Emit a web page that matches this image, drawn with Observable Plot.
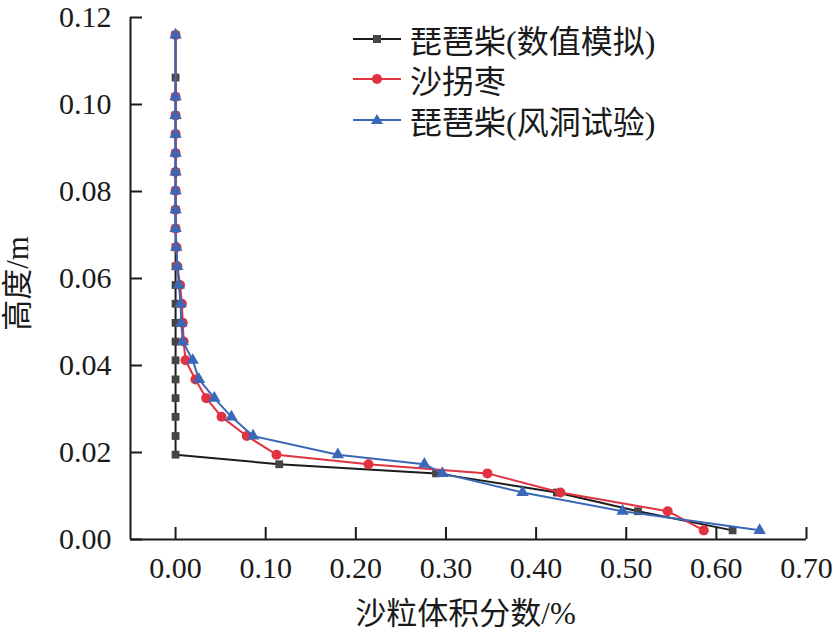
<!DOCTYPE html>
<html>
<head>
<meta charset="utf-8">
<script src="https://cdn.jsdelivr.net/npm/d3@7"></script>
<script src="https://cdn.jsdelivr.net/npm/@observablehq/plot@0.6"></script>
<style>
  html, body { margin: 0; padding: 0; background: #fff; }
  #wrap { position: relative; width: 833px; height: 635px; }
  #legend { position: absolute; left: 353px; top: 0; font-family: "Liberation Serif", "Noto Sans CJK SC", serif; font-size: 32px; color: #1a1a1a; }
  .row { position: absolute; left: 0; display: flex; align-items: center; white-space: nowrap; height: 40px; }
  .row svg { margin-right: 9px; }
</style>
</head>
<body>
<div id="wrap"></div>
<script>
// Heights (m) at which sand volume fraction was sampled
const heights = [0.0021, 0.0065, 0.0108, 0.0152, 0.0173, 0.0195, 0.0238, 0.0282, 0.0325, 0.0368,
  0.0412, 0.0455, 0.0498, 0.0542, 0.0585, 0.0628, 0.0672, 0.0715, 0.0758, 0.0802,
  0.0845, 0.0888, 0.0932, 0.0975, 0.1018, 0.1062, 0.1160];

// 琵琶柴(数值模拟)
const simValues = [0.618, 0.513, 0.423, 0.289, 0.115, 0.000, 0.000, 0.000, 0.000, 0.000,
  0.000, 0.000, 0.000, 0.000, 0.000, 0.000, 0.000, 0.000, 0.000, 0.000,
  0.000, 0.000, 0.000, 0.000, 0.000, 0.000, 0.000];

// 沙拐枣
const shaValues = [0.586, 0.546, 0.427, 0.346, 0.214, 0.112, 0.079, 0.051, 0.034, 0.022,
  0.011, 0.009, 0.008, 0.007, 0.005, 0.002, 0.001, 0.000, 0.000, 0.000,
  0.000, 0.000, 0.000, 0.000, 0.000, null, 0.000];

// 琵琶柴(风洞试验)
const windValues = [0.648, 0.496, 0.385, 0.296, 0.276, 0.180, 0.086, 0.062, 0.043, 0.026,
  0.019, 0.008, 0.0063, 0.0056, 0.0037, 0.0019, 0.0008, 0.000, 0.000, 0.000,
  0.000, 0.000, 0.000, 0.000, 0.000, null, 0.000];

const seriesNames = ["琵琶柴(数值模拟)", "沙拐枣", "琵琶柴(风洞试验)"];
const xTicks = [0, 0.1, 0.2, 0.3, 0.4, 0.5, 0.6, 0.7];
const yTicks = [0, 0.02, 0.04, 0.06, 0.08, 0.10, 0.12];
const xLabel = "沙粒体积分数/%";
const yLabel = "高度/m";

const colors = { sim: "#1c1c1c", simMarker: "#454545", sha: "#e0323f", wind: "#3a68b6" };

function rows(values) {
  return heights.map((h, i) => ({ h, v: values[i] })).filter(d => d.v != null);
}
const sim = rows(simValues), sha = rows(shaValues), wind = rows(windValues);

const font = "'Liberation Serif', 'Noto Sans CJK SC', serif";

const chart = Plot.plot({
  width: 833,
  height: 635,
  marginLeft: 130,
  marginRight: 27,
  marginTop: 17,
  marginBottom: 96,
  style: { fontFamily: font, background: "#fff", color: "#1a1a1a" },
  x: { domain: [-0.05, 0.70] },
  y: { domain: [0, 0.12] },
  marks: [
    // axis tick labels
    Plot.axisX(xTicks, { tickSize: 0, tickPadding: 17, tickFormat: d3.format(".2f"), fontSize: 30, label: null }),
    Plot.axisY(yTicks, { tickSize: 0, tickPadding: 19, tickFormat: d3.format(".2f"), fontSize: 30, label: null }),
    // axis titles
    Plot.text([xLabel], { text: d => d, frameAnchor: "bottom", dx: -3, dy: 75, textAnchor: "middle", lineAnchor: "middle", fontSize: 31, fill: "#1a1a1a" }),
    Plot.text([yLabel], { text: d => d, frameAnchor: "left", dx: -112, dy: 5, rotate: -90, textAnchor: "middle", lineAnchor: "middle", fontSize: 31, fill: "#1a1a1a" }),
    // inward ticks
    Plot.tickX(xTicks, { x: d => d, insetTop: 510, stroke: "#1a1a1a", strokeWidth: 2 }),
    Plot.tickY(yTicks, { y: d => d, insetRight: 664, stroke: "#1a1a1a", strokeWidth: 2 }),
    // axis lines
    Plot.ruleX([-0.05], { stroke: "#1a1a1a", strokeWidth: 2 }),
    Plot.ruleY([0], { stroke: "#1a1a1a", strokeWidth: 2 }),
    // series
    Plot.line(sim, { x: "v", y: "h", stroke: colors.sim, strokeWidth: 2 }),
    Plot.dot(sim, { x: "v", y: "h", symbol: "square", r: 4.4, fill: colors.simMarker }),
    Plot.line(sha, { x: "v", y: "h", stroke: colors.sha, strokeWidth: 2 }),
    Plot.dot(sha, { x: "v", y: "h", symbol: "circle", r: 5, fill: colors.sha }),
    Plot.line(wind, { x: "v", y: "h", stroke: colors.wind, strokeWidth: 2 }),
    Plot.dot(wind, { x: "v", y: "h", symbol: "triangle", r: 4.6, fill: colors.wind })
  ]
});

const wrap = document.getElementById("wrap");
wrap.appendChild(chart);

// Legend
const legend = document.createElement("div");
legend.id = "legend";
const legendItems = [
  { name: seriesNames[0], line: colors.sim, marker: colors.simMarker, shape: "square", cy: 39 },
  { name: seriesNames[1], line: colors.sha, marker: colors.sha, shape: "circle", cy: 79 },
  { name: seriesNames[2], line: colors.wind, marker: colors.wind, shape: "triangle", cy: 120 }
];
for (const it of legendItems) {
  const row = document.createElement("div");
  row.className = "row";
  row.style.top = (it.cy - 20) + "px";
  let m;
  if (it.shape === "square") m = `<rect x="20" y="6" width="8" height="8" fill="${it.marker}"/>`;
  else if (it.shape === "circle") m = `<circle cx="24" cy="10" r="5" fill="${it.marker}"/>`;
  else m = `<path d="M24,4 L30,14 L18,14 Z" fill="${it.marker}"/>`;
  row.innerHTML = `<svg width="48" height="20"><line x1="0" y1="10" x2="48" y2="10" stroke="${it.line}" stroke-width="2"/>${m}</svg><span>${it.name}</span>`;
  legend.appendChild(row);
}
wrap.appendChild(legend);
</script>
</body>
</html>
